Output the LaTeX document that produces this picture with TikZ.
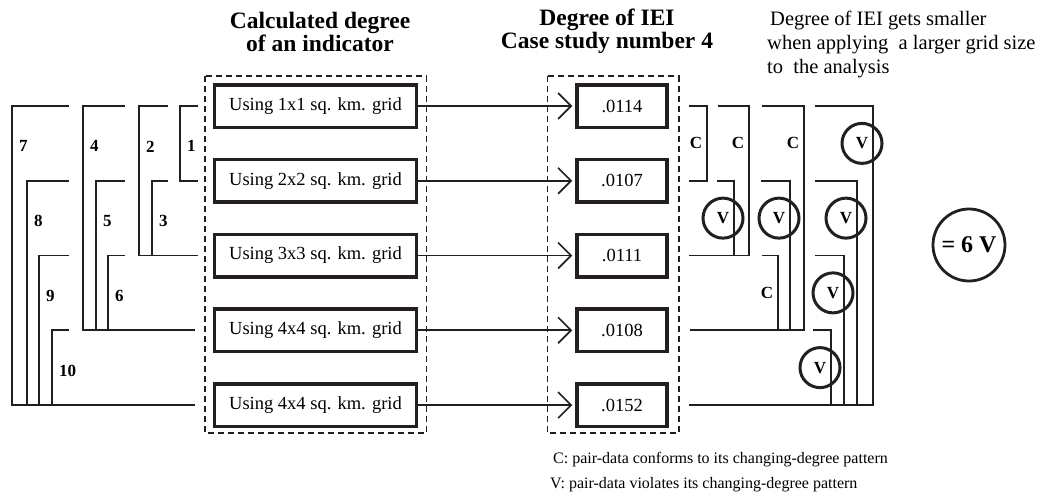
\documentclass[tikz,border=0pt]{standalone}
\usepackage{fontspec}
\setmainfont{Liberation Serif}
\usetikzlibrary{arrows.meta,positioning,calc}
\definecolor{gdInk}{HTML}{231F20}
\tikzset{
  grd/.style={draw=gdInk, line width=3.5pt, minimum width=202pt, minimum height=42.5pt, inner sep=0pt, font=\fontsize{18.5}{22}\selectfont},
  valbox/.style={grd, minimum width=90pt},
  dbox/.style={draw=gdInk, line width=1.5pt, dash pattern=on 6pt off 4pt},
  brk/.style={draw=gdInk, line width=1.6pt},
  arr/.style={-{Straight Barb[length=13pt,width=26pt]}, line width=1.6pt, draw=gdInk, shorten >=3pt},
  ttl/.style={align=center, inner sep=0pt, font=\bfseries\fontsize{23.5}{23}\selectfont},
  txt/.style={align=left, inner sep=0pt, font=\fontsize{20.5}{24}\selectfont},
  lgd/.style={anchor=west, inner sep=0pt, font=\fontsize{16}{18}\selectfont},
  num/.style={anchor=west, inner sep=0pt, font=\bfseries\fontsize{17}{18}\selectfont},
  mkC/.style={inner sep=0pt, font=\bfseries\fontsize{17}{18}\selectfont},
  mkV/.style={mkC, circle, draw=gdInk, line width=3pt, minimum size=40pt},
  tot/.style={circle, draw=gdInk, line width=2.8pt, minimum size=72pt, inner sep=0pt, font=\bfseries\fontsize{24}{26}\selectfont},
}
\begin{document}
\begin{tikzpicture}[x=1pt, y=-1pt, node distance=28.75pt]
  \useasboundingbox (0,0) rectangle (1053,499);
  % grid sizes
  \node[grd] (g1) at (315.5,106) {Using 1x1 sq. km. grid};
  \node[grd, below=of g1] (g2) {Using 2x2 sq. km. grid};
  \node[grd, below=of g2] (g3) {Using 3x3 sq. km. grid};
  \node[grd, below=of g3] (g4) {Using 4x4 sq. km. grid};
  \node[grd, below=of g4] (g5) {Using 4x4 sq. km. grid};
  % degrees
  \node[valbox, right=157pt of g1] (v1) {.0114};
  \node[valbox, right=157pt of g2] (v2) {.0107};
  \node[valbox, right=157pt of g3] (v3) {.0111};
  \node[valbox, right=157pt of g4] (v4) {.0108};
  \node[valbox, right=157pt of g5] (v5) {.0152};
  \foreach \i in {1,...,5}
    \draw[arr] (g\i) -- (v\i);
  \draw[dbox] ($(g1.north west)+(-8,-7)$) rectangle ($(g5.south east)+(8,5)$);
  \draw[dbox] ($(v1.north west)+(-28,-7)$) rectangle ($(v5.south east)+(10,5)$);
  % titles
  \node[ttl] (t1) at (320,31.5) {Calculated degree\\of an indicator};
  \node[ttl] (t2) at (607,31.5) {Degree of IEI\\Case study number 4};
  \node[txt, anchor=west] (nt) at (767,44) {\hspace*{3pt}Degree of IEI gets smaller\\when applying\ \ a larger grid size\\to\ \ the analysis};
  % pairs on the left
  \foreach \lb/\x/\a/\b/\e/\f in {1/180/1/2/198/198, 2/139/1/3/168/198, 3/152/2/3/168/198,
      4/83/1/4/125/195, 5/96/2/4/125/195, 6/108/3/4/125/195,
      7/12/1/5/69/195, 8/27/2/5/69/195, 9/39/3/5/69/195, 10/52/4/5/69/195}{
    \pgfmathtruncatemacro\nx{\a+1}
    \draw[brk] (\e,0 |- g\a) -- (\x,0 |- g\a) -- (\x,0 |- g\b) -- (\f,0 |- g\b);
    \node[num] (n\lb) at ($(\x,0 |- g\a)!0.5!(\x,0 |- g\nx)+(7,3)$) {\lb};
  }
  % pairs on the right
  \foreach \lb/\x/\a/\b/\s/\t [count=\k] in {C/707/1/2/689/689, C/749/1/3/718/689, V/734/2/3/717/717,
      C/804/1/4/762/690, V/790/2/4/761/761, C/778/3/4/762/762,
      V/873/1/5/815/689, V/857/2/5/815/815, V/844/3/5/815/815, V/831/4/5/813/813}{
    \pgfmathtruncatemacro\nx{\a+1}
    \tikzset{mkcur/.estyle={mk\lb}}
    \draw[brk] (\s,0 |- v\a) -- (\x,0 |- v\a) -- (\x,0 |- v\b) -- (\t,0 |- v\b);
    \node[mkcur] (p\k) at ($(\x,0 |- v\a)!0.5!(\x,0 |- v\nx)+(-11,0)$) {\lb};
  }
  \node[tot] (tot) at (969,245) {= 6 V};
  % legend
  \node[lgd] (lc) at (553,460) {C: pair-data conforms to its changing-degree pattern};
  \node[lgd] (lv) at (550,485) {V: pair-data violates its changing-degree pattern};
\end{tikzpicture}
\end{document}
